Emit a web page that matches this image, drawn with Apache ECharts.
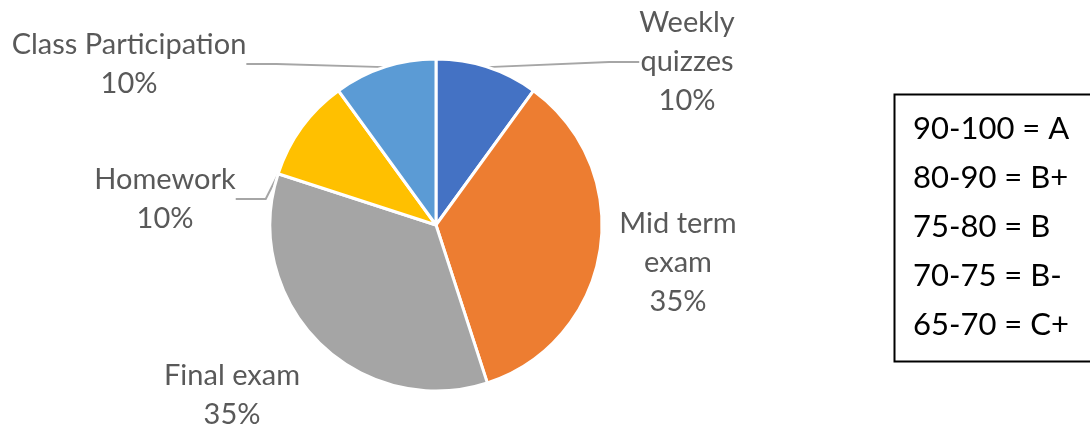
<!DOCTYPE html>
<html>
<head>
<meta charset="utf-8">
<script src="https://cdn.jsdelivr.net/npm/echarts@6/dist/echarts.min.js"></script>
<style>
html,body{margin:0;padding:0;background:#fff;}
#chart{width:1090px;height:425px;}
</style>
</head>
<body>
<div id="chart"></div>
<script>
// ---- data ----
var categories = ['Weekly\nquizzes', 'Mid term\nexam', 'Final exam', 'Homework', 'Class Participation'];
var weights = [10, 35, 35, 10, 10];
var sliceColors = ['#4472C4', '#ED7D31', '#A5A5A5', '#FFC000', '#5B9BD5'];
var gradeScale = ['90-100 = A', '80-90 = B+', '75-80 = B', '70-75 = B-', '65-70 = C+'];

// ---- layout (label anchor positions, not data) ----
var labelPos = [[687, 62], [678, 263], [232, 395], [165, 199], [129, 64]];
var showLine = [true, false, false, true, true];

var chart = echarts.init(document.getElementById('chart'), null, {renderer: 'canvas'});

var pieData = categories.map(function (c, i) {
  return {
    name: c,
    value: weights[i],
    itemStyle: {color: sliceColors[i]},
    labelLine: {show: showLine[i]}
  };
});

var gradeText = gradeScale.map(function (g, i) {
  return {
    type: 'text',
    x: 913,
    y: 129 + i * 49,
    style: {
      text: g,
      font: '31px Lato',
      fill: '#000',
      textAlign: 'left',
      textVerticalAlign: 'middle'
    }
  };
});

chart.setOption({
  animation: false,
  backgroundColor: '#fff',
  series: [{
    type: 'pie',
    center: [436, 225],
    radius: [0, 166],
    startAngle: 90,
    clockwise: true,
    data: pieData,
    itemStyle: {borderColor: '#fff', borderWidth: 3},
    label: {
      show: true,
      position: 'outside',
      formatter: '{b}\n{d}%',
      fontFamily: 'Lato',
      fontSize: 29,
      lineHeight: 39,
      color: '#595959',
      align: 'center'
    },
    labelLine: {
      show: true,
      lineStyle: {color: '#A6A6A6', width: 2}
    },
    labelLayout: function (p) {
      var pos = labelPos[p.dataIndex];
      return {x: pos[0], y: pos[1], align: 'center', verticalAlign: 'middle'};
    }
  }],
  graphic: [{
    type: 'rect',
    left: 892,
    top: 92,
    shape: {width: 220, height: 267},
    style: {fill: 'none', stroke: '#000', lineWidth: 2}
  }].concat(gradeText)
});
</script>
</body>
</html>
